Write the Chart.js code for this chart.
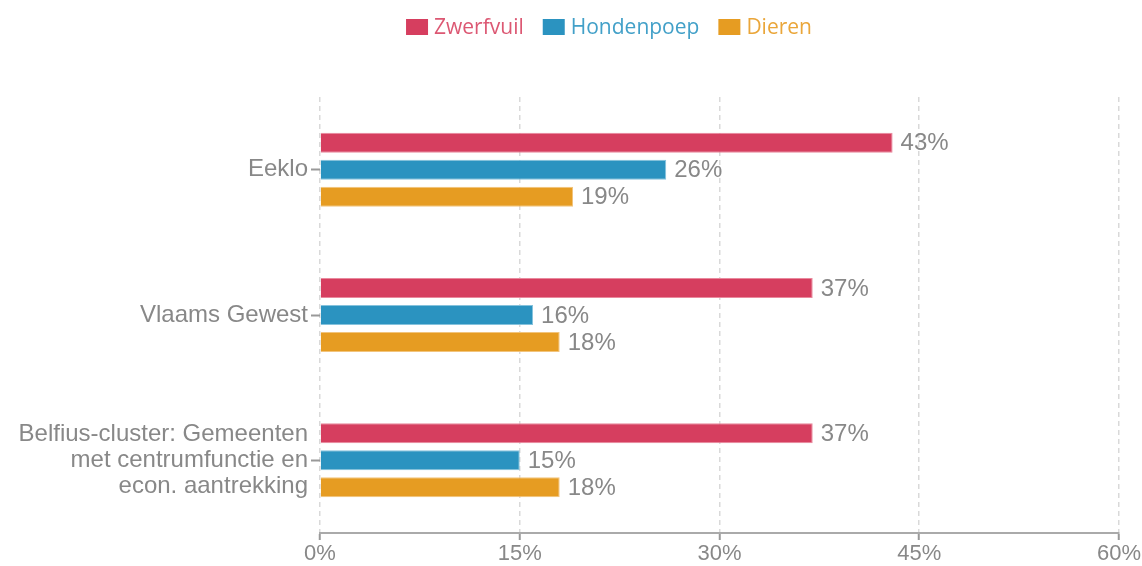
<!DOCTYPE html>
<html>
<head>
<meta charset="utf-8">
<script src="https://cdn.jsdelivr.net/npm/chart.js@4/dist/chart.umd.min.js"></script>
<style>
  html, body { margin: 0; padding: 0; background: #fff; }
  #wrap { width: 1142px; height: 566px; }
</style>
</head>
<body>
<div id="wrap"><canvas id="grafiek" width="1142" height="566"></canvas></div>
<script>
// categorieën en reeksen (percentages)
const categorieen = ['Eeklo', 'Vlaams Gewest', ['Belfius-cluster: Gemeenten', 'met centrumfunctie en', 'econ. aantrekking']];
const reeksen = ['Zwerfvuil', 'Hondenpoep', 'Dieren'];
const zwerfvuil = [43, 37, 37];
const hondenpoep = [26, 16, 15];
const dieren = [19, 18, 18];
const xTicks = [0, 15, 30, 45, 60];

const kleuren = ['#d63e5f', '#2b93c0', '#e69c22'];
const randKleuren = ['#e9899d', '#85c2dc', '#f2c47c'];
const legendeTekst = ['#dc5873', '#42a0c8', '#eaa63a'];

const tekstGrijs = '#888888';
const asFont = 'Liberation Sans, Arial, sans-serif';

// waarde rechts naast elke balk
const waardeLabels = {
    id: 'waardeLabels',
    afterDatasetsDraw(chart) {
        const ctx = chart.ctx;
        ctx.save();
        ctx.font = '24px ' + asFont;
        ctx.fillStyle = tekstGrijs;
        ctx.textAlign = 'left';
        ctx.textBaseline = 'middle';
        chart.data.datasets.forEach(function (ds, i) {
            const meta = chart.getDatasetMeta(i);
            meta.data.forEach(function (bar, j) {
                ctx.fillText(ds.data[j] + '%', bar.x + 8, bar.y + 1);
            });
        });
        ctx.restore();
    }
};

// legende bovenaan, tekst in de kleur van de reeks
const legende = {
    id: 'legende',
    afterDraw(chart) {
        const ctx = chart.ctx;
        const midden = 609, y = 27;
        const vakB = 22, vakH = 16, tussen = 6, gap = 19;
        ctx.save();
        ctx.font = '21px "Open Sans", sans-serif';
        ctx.textBaseline = 'middle';
        ctx.textAlign = 'left';
        const breedtes = chart.data.datasets.map(function (ds) {
            return vakB + tussen + ctx.measureText(ds.label).width;
        });
        const totaal = breedtes.reduce(function (a, b) { return a + b; }, 0) + gap * (breedtes.length - 1);
        let x = midden - totaal / 2;
        chart.data.datasets.forEach(function (ds, i) {
            ctx.fillStyle = ds.backgroundColor;
            ctx.fillRect(x, y - vakH / 2, vakB, vakH);
            ctx.fillStyle = legendeTekst[i];
            ctx.fillText(ds.label, x + vakB + tussen, y + 1);
            x += breedtes[i] + gap;
        });
        ctx.restore();
    }
};

new Chart(document.getElementById('grafiek'), {
    type: 'bar',
    data: {
        labels: categorieen,
        datasets: [zwerfvuil, hondenpoep, dieren].map(function (waarden, i) {
            return {
                label: reeksen[i],
                data: waarden,
                backgroundColor: kleuren[i],
                borderColor: randKleuren[i],
                borderWidth: 1
            };
        })
    },
    options: {
        indexAxis: 'y',
        responsive: false,
        animation: false,
        devicePixelRatio: 1,
        categoryPercentage: 0.557,
        barPercentage: 0.74,
        layout: { padding: { left: 0, right: 23, top: 97, bottom: 0 } },
        scales: {
            x: {
                min: 0,
                max: 60,
                afterBuildTicks: function (scale) {
                    scale.ticks = xTicks.map(function (v) { return { value: v }; });
                },
                afterFit: function (scale) { scale.height = 33; },
                ticks: {
                    color: tekstGrijs,
                    font: { family: asFont, size: 22 },
                    padding: 1,
                    callback: function (v) { return v + '%'; }
                },
                grid: {
                    color: '#d9d9d9',
                    lineWidth: 1.5,
                    tickBorderDash: [],
                    tickColor: '#999999',
                    tickLength: 7,
                    tickWidth: 2
                },
                border: { display: true, color: '#aaaaaa', width: 2, dash: [5, 4] }
            },
            y: {
                afterFit: function (scale) { scale.width = 320; },
                ticks: {
                    color: tekstGrijs,
                    font: { family: asFont, size: 24, lineHeight: 1.09 },
                    padding: 3
                },
                grid: {
                    offset: false,
                    drawOnChartArea: false,
                    tickColor: '#999999',
                    tickLength: 9,
                    tickWidth: 2
                },
                border: { display: false }
            }
        },
        plugins: {
            tooltip: { enabled: false },
            legend: { display: false }
        }
    },
    plugins: [waardeLabels, legende]
});
</script>
</body>
</html>
